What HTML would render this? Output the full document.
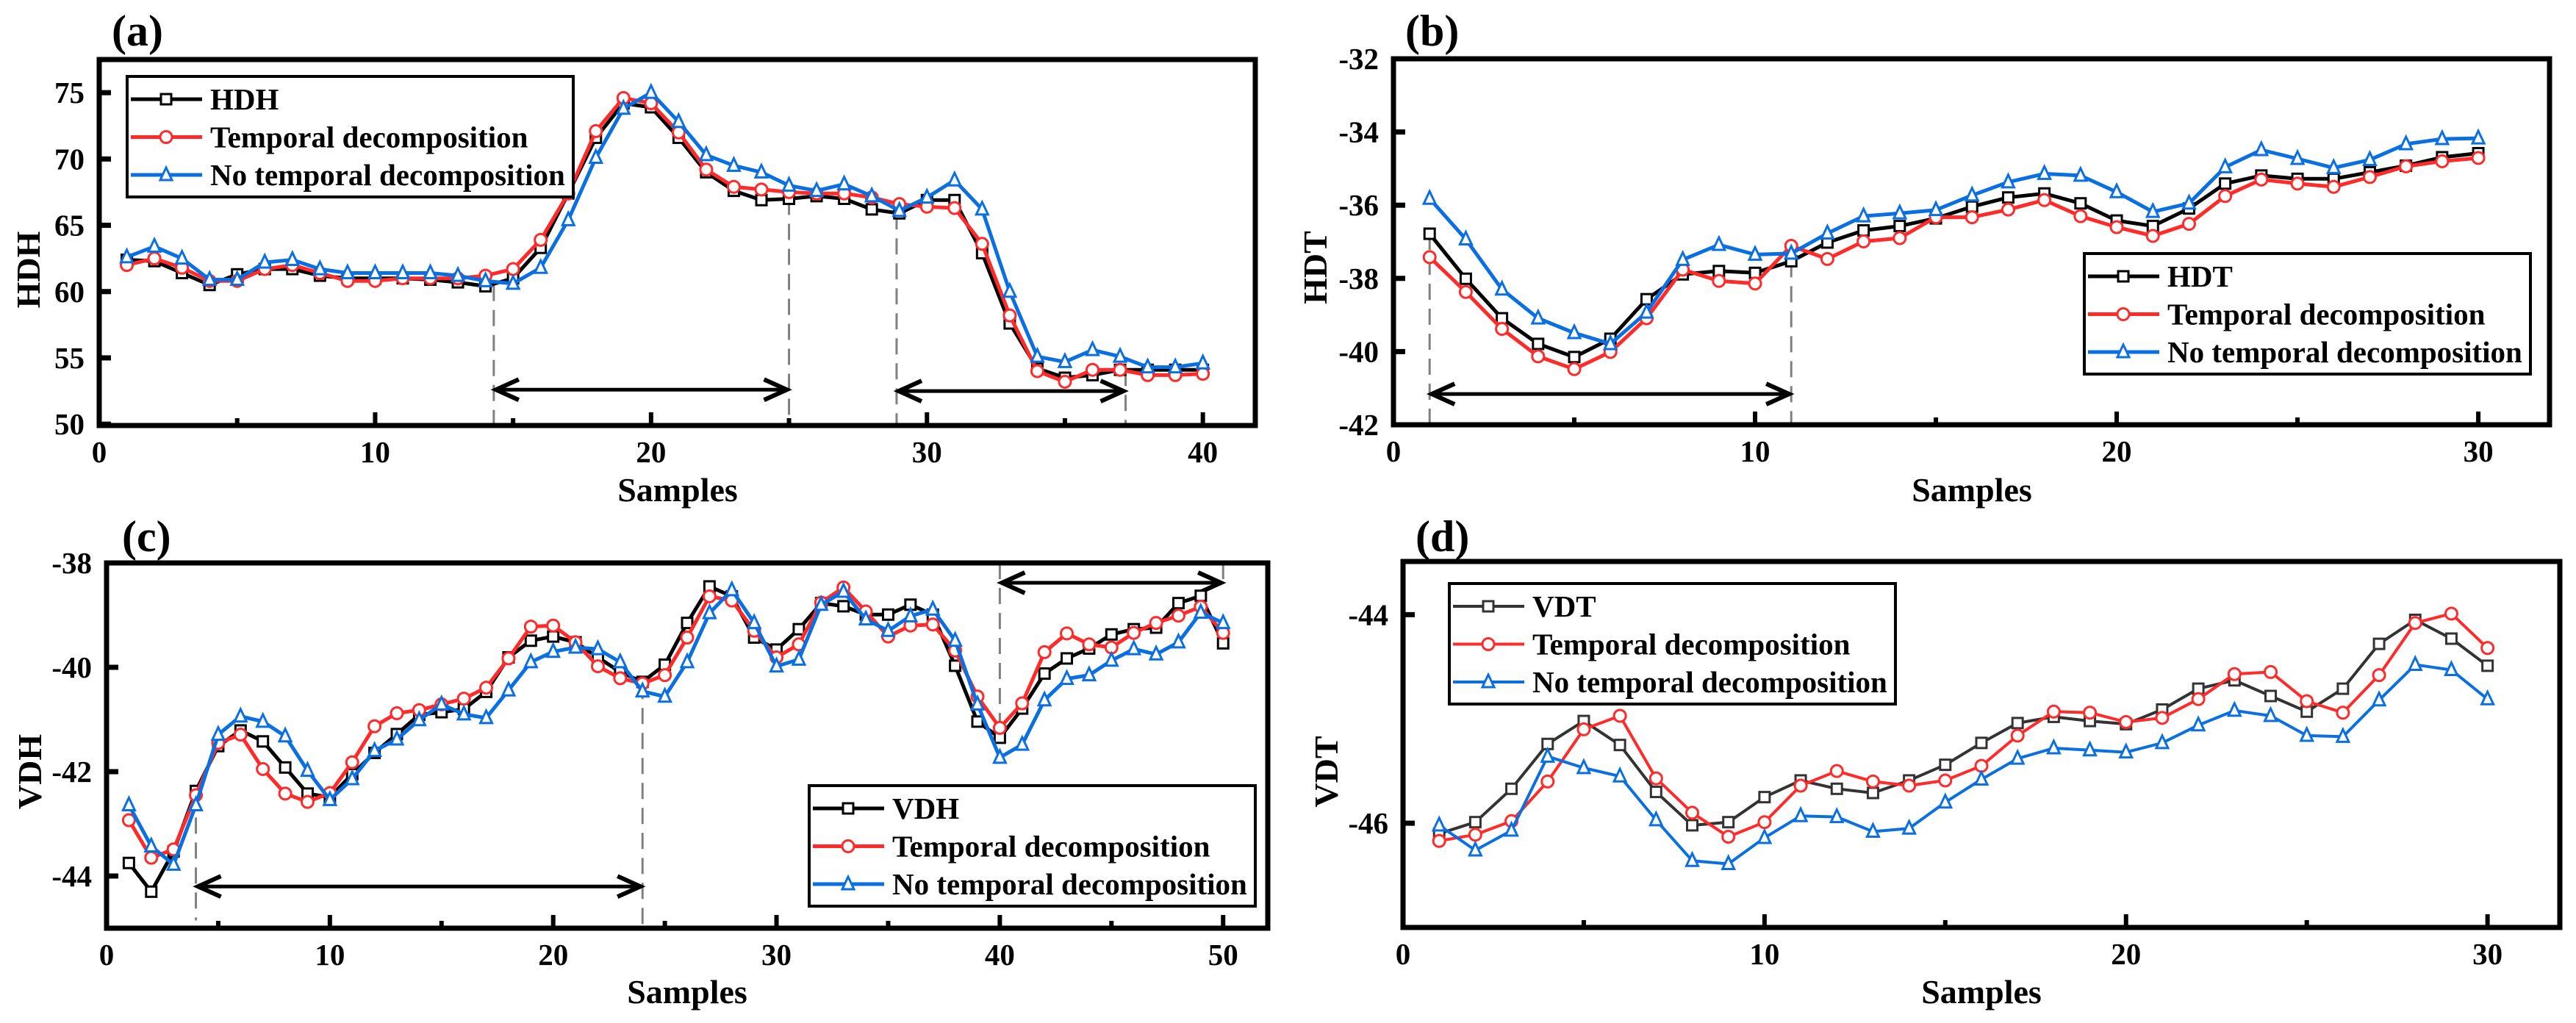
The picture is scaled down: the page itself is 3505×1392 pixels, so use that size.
<!DOCTYPE html>
<html><head><meta charset="utf-8"><style>
html,body{margin:0;padding:0;background:#fff;}
svg{display:block;font-family:"Liberation Serif",serif;}
</style></head><body>
<svg id="fig" width="3505" height="1392" viewBox="0 0 3505 1392" xmlns="http://www.w3.org/2000/svg"></svg>
<script>
// ---------- Panel (a) data ----------
const aSamples = Array.from({length:40},(_, i)=>i+1);
const aHDH = [62.4,62.3,61.4,60.5,61.3,61.7,61.7,61.2,61.0,61.0,61.0,60.9,60.7,60.4,61.0,63.3,67.4,71.6,74.2,73.9,71.6,69.0,67.6,66.9,67.0,67.2,67.0,66.2,65.9,66.9,66.9,62.9,57.6,54.2,53.5,53.7,54.1,54.1,54.1,54.1];
const aTemporal = [62.0,62.5,61.8,60.8,60.8,61.7,62.0,61.4,60.8,60.8,61.0,61.0,61.0,61.2,61.7,63.9,67.4,72.1,74.6,74.2,72.0,69.2,67.9,67.7,67.5,67.4,67.4,67.1,66.6,66.4,66.3,63.6,58.2,54.0,53.2,54.1,54.1,53.7,53.7,53.8];
const aNoTemporal = [62.6,63.4,62.5,60.9,60.9,62.2,62.4,61.7,61.4,61.4,61.4,61.4,61.2,60.8,60.6,61.8,65.4,70.1,73.8,75.0,72.8,70.3,69.5,69.0,68.0,67.6,68.1,67.2,66.1,67.1,68.4,66.2,60.0,55.1,54.7,55.6,55.1,54.3,54.3,54.6];
const aXTicks = [0,10,20,30,40];
const aYTicks = [50,55,60,65,70,75];

// ---------- Panel (b) data ----------
const bSamples = Array.from({length:30},(_, i)=>i+1);
const bHDT = [-36.78,-38.01,-39.09,-39.79,-40.15,-39.65,-38.57,-37.89,-37.80,-37.85,-37.53,-37.02,-36.69,-36.57,-36.36,-36.04,-35.79,-35.68,-35.95,-36.42,-36.57,-36.09,-35.41,-35.19,-35.28,-35.28,-35.10,-34.92,-34.69,-34.58];
const bTemporal = [-37.42,-38.37,-39.38,-40.13,-40.48,-40.01,-39.09,-37.76,-38.07,-38.14,-37.11,-37.47,-36.99,-36.90,-36.33,-36.33,-36.12,-35.86,-36.30,-36.60,-36.84,-36.51,-35.75,-35.30,-35.41,-35.50,-35.23,-34.94,-34.80,-34.71];
const bNoTemporal = [-35.82,-36.93,-38.30,-39.09,-39.49,-39.79,-38.93,-37.49,-37.08,-37.35,-37.32,-36.77,-36.30,-36.22,-36.13,-35.73,-35.37,-35.14,-35.19,-35.64,-36.18,-35.95,-34.96,-34.49,-34.73,-34.98,-34.76,-34.33,-34.19,-34.17];
const bXTicks = [0,10,20,30];
const bYTicks = [-42,-40,-38,-36,-34,-32];

// ---------- Panel (c) data ----------
const cSamples = Array.from({length:50},(_, i)=>i+1);
const cVDH = [-43.75,-44.30,-43.53,-42.37,-41.51,-41.21,-41.42,-41.92,-42.42,-42.49,-42.05,-41.64,-41.28,-40.91,-40.86,-40.80,-40.47,-39.81,-39.49,-39.41,-39.52,-39.81,-40.09,-40.28,-39.95,-39.15,-38.45,-38.64,-39.43,-39.66,-39.27,-38.77,-38.83,-38.99,-38.99,-38.80,-38.99,-39.97,-41.04,-41.35,-40.79,-40.12,-39.83,-39.64,-39.37,-39.27,-39.24,-38.77,-38.63,-39.54];
const cTemporal = [-42.93,-43.65,-43.49,-42.45,-41.45,-41.29,-41.95,-42.42,-42.58,-42.41,-41.82,-41.13,-40.88,-40.82,-40.71,-40.60,-40.39,-39.83,-39.22,-39.20,-39.52,-39.98,-40.21,-40.31,-40.15,-39.43,-38.64,-38.72,-39.30,-39.81,-39.56,-38.76,-38.47,-38.93,-39.41,-39.20,-39.18,-39.68,-40.56,-41.16,-40.69,-39.71,-39.35,-39.56,-39.62,-39.34,-39.15,-39.01,-38.84,-39.34];
const cNoTemporal = [-42.64,-43.43,-43.78,-42.64,-41.29,-40.94,-41.04,-41.32,-41.98,-42.54,-42.14,-41.60,-41.38,-41.01,-40.71,-40.90,-40.97,-40.44,-39.90,-39.70,-39.62,-39.65,-39.90,-40.46,-40.56,-39.90,-38.96,-38.52,-39.15,-39.98,-39.85,-38.80,-38.55,-39.08,-39.30,-39.02,-38.89,-39.49,-40.71,-41.73,-41.48,-40.63,-40.22,-40.15,-39.87,-39.65,-39.75,-39.52,-38.95,-39.15];
const cXTicks = [0,10,20,30,40,50];
const cYTicks = [-44,-42,-40,-38];

// ---------- Panel (d) data ----------
const dSamples = Array.from({length:30},(_, i)=>i+1);
const dVDT = [-46.10,-45.99,-45.67,-45.24,-45.02,-45.25,-45.70,-46.02,-45.99,-45.75,-45.59,-45.67,-45.71,-45.59,-45.44,-45.23,-45.04,-44.98,-45.02,-45.05,-44.91,-44.71,-44.63,-44.78,-44.93,-44.71,-44.28,-44.05,-44.23,-44.49];
const dTemporal = [-46.17,-46.11,-45.98,-45.60,-45.10,-44.97,-45.57,-45.90,-46.13,-45.99,-45.64,-45.50,-45.60,-45.64,-45.59,-45.45,-45.16,-44.93,-44.94,-45.03,-44.99,-44.81,-44.57,-44.55,-44.83,-44.94,-44.58,-44.08,-43.99,-44.32];
const dNoTemporal = [-46.02,-46.26,-46.07,-45.36,-45.47,-45.55,-45.97,-46.36,-46.39,-46.14,-45.93,-45.94,-46.08,-46.05,-45.80,-45.58,-45.38,-45.28,-45.30,-45.32,-45.23,-45.06,-44.92,-44.97,-45.16,-45.17,-44.82,-44.48,-44.53,-44.81];
const dXTicks = [0,10,20,30];
const dYTicks = [-46,-44];

const NS = "http://www.w3.org/2000/svg";
const svg = document.getElementById('fig');
function mk(tag, attrs, parent){
  const e = document.createElementNS(NS, tag);
  for (const k in attrs) e.setAttribute(k, attrs[k]);
  (parent||svg).appendChild(e);
  return e;
}
const BLACK='#000', RED='#ff2a2a', BLUE='#0a6fe0';

function marker(g, kind, x, y, color, sw){
  let m;
  if (kind==='square') m = mk('rect',{x:x-7,y:y-7,width:14,height:14,fill:'#fff',stroke:color,'stroke-width':sw},g);
  else if (kind==='circle') m = mk('circle',{cx:x,cy:y,r:8,fill:'#fff',stroke:color,'stroke-width':sw},g);
  else m = mk('polygon',{points:`${x},${y-10} ${x-8},${y+7} ${x+8},${y+7}`,fill:'#fff',stroke:color,'stroke-width':sw},g);
  return m;
}

function panel(p){
  const g = mk('g',{});
  
  
  const sx = v => p.L + (v - p.xmin)/(p.xmax - p.xmin)*(p.R - p.L);
  const sy = v => p.B - (v - p.ymin)/(p.ymax - p.ymin)*(p.B - p.T);

  // panel label
  const lab = mk('text',{x:p.labX,y:p.labY,'font-size':60,'font-weight':'bold'},g);
  lab.textContent = p.label;
  
  

  // dashed guides
  p.dashes.forEach(d=>{
    const l = mk('line',{x1:sx(d[0]),x2:sx(d[0]),y1:sy(d[1]),y2:sy(d[2]),stroke:'#808080','stroke-width':3,'stroke-dasharray':'22 12'},g);
    
    
  });
  // arrows
  p.arrows.forEach(a=>{
    const x1=sx(a[0]), x2=sx(a[1]), y=sy(a[2]);
    const ag = mk('g',{},g);
    
    
    mk('line',{x1:x1+4,x2:x2-4,y1:y,y2:y,stroke:'#000','stroke-width':5},ag);
    mk('polyline',{points:`${x1+34},${y-14} ${x1+3},${y} ${x1+34},${y+14}`,fill:'none',stroke:'#000','stroke-width':6},ag);
    mk('polyline',{points:`${x2-34},${y-14} ${x2-3},${y} ${x2-34},${y+14}`,fill:'none',stroke:'#000','stroke-width':6},ag);
  });

  // series
  const sw = p.thin ? 4 : 5;
  p.series.forEach(s=>{
    const sg = mk('g',{},g);
    
    
    const pts = p.xs.map((x,i)=>`${sx(x).toFixed(1)},${sy(s.vals[i]).toFixed(1)}`).join(' ');
    const pl = mk('polyline',{points:pts,fill:'none',stroke:s.color,'stroke-width':sw,'stroke-linejoin':'round'},sg);
    
    
    p.xs.forEach((x,i)=>{
      const m = marker(sg, s.kind, sx(x), sy(s.vals[i]), s.color, 3);
      
      
    });
  });

  // axes box
  const box = mk('rect',{x:p.L,y:p.T,width:p.R-p.L,height:p.B-p.T,fill:'none',stroke:'#000','stroke-width':7},g);
  
  

  // x ticks
  for (let v=p.xmin; v<=p.xmax+1e-6; v+=5){
    const major = Math.abs(v/10 - Math.round(v/10))<1e-6;
    const t = mk('line',{x1:sx(v),x2:sx(v),y1:p.B,y2:p.B-(major?18:10),stroke:'#000','stroke-width':6},g);
    
    
  }
  p.xticks.forEach(v=>{
    const t = mk('text',{x:sx(v),y:p.B+50,'font-size':41,'font-weight':'bold','text-anchor':'middle'},g);
    t.textContent = v;
    
    
  });
  p.yticks.forEach(v=>{
    const t = mk('line',{x1:p.L,x2:p.L+16,y1:sy(v),y2:sy(v),stroke:'#000','stroke-width':7},g);
    
    
    const tl = mk('text',{x:p.L-20,y:sy(v)+14,'font-size':41,'font-weight':'bold','text-anchor':'end'},g);
    tl.textContent = v;
    
    
  });

  // axis titles
  const xt = mk('text',{x:p.xtX,y:p.xtY,'font-size':46,'font-weight':'bold','text-anchor':'middle'},g);
  xt.textContent = 'Samples';
  
  
  const yt = mk('text',{x:0,y:0,'font-size':46,'font-weight':'bold','text-anchor':'middle',transform:`translate(${p.ytX},${p.ytY}) rotate(-90)`},g);
  yt.textContent = p.ytitle;
  
  

  // legend
  const lg = mk('g',{},g);
  
  
  mk('rect',{x:p.legX,y:p.legY,width:607,height:164,fill:'#fff',stroke:'#000','stroke-width':4},lg);
  p.series.forEach((s,i)=>{
    const y = p.legY + 31 + i*51.5;
    const e = mk('g',{},lg);
    
    
    mk('line',{x1:p.legX+5,x2:p.legX+102,y1:y,y2:y,stroke:s.color,'stroke-width':sw},e);
    marker(e, s.kind, p.legX+53, y, s.color, 3);
    const tx = mk('text',{x:p.legX+113,y:y+14,'font-size':41,'font-weight':'bold'},e);
    tx.textContent = s.label;
  });
}

panel({name:'panel-a-hdh',label:'(a)',labX:152,labY:62,L:135,R:1708,T:81,B:579,xmin:0,xmax:41.9,ymin:49.9,ymax:77.5,
  xs:aSamples,xticks:aXTicks,yticks:aYTicks,xtX:922,xtY:682,ytX:54,ytY:367,ytitle:'HDH',legX:173,legY:104,
  dashes:[[14.3,60.5,49.9],[25,67.0,49.9],[28.9,65.9,49.9],[37.2,54.1,49.9]],
  arrows:[[14.3,25,52.6],[28.9,37.2,52.5]],
  series:[{name:'hdh-series',label:'HDH',vals:aHDH,color:BLACK,kind:'square'},
          {name:'temporal-series',label:'Temporal decomposition',vals:aTemporal,color:RED,kind:'circle'},
          {name:'no-temporal-series',label:'No temporal decomposition',vals:aNoTemporal,color:BLUE,kind:'triangle'}]});

panel({name:'panel-b-hdt',label:'(b)',labX:1912,labY:62,L:1896,R:3469,T:80,B:578,xmin:0,xmax:31.97,ymin:-42,ymax:-32,
  xs:bSamples,xticks:bXTicks,yticks:bYTicks,xtX:2683,xtY:682,ytX:1805,ytY:364,ytitle:'HDT',legX:2836,legY:345,
  dashes:[[1,-36.78,-42],[11,-37.53,-42]],
  arrows:[[1,11,-41.16]],
  series:[{name:'hdt-series',label:'HDT',vals:bHDT,color:BLACK,kind:'square'},
          {name:'temporal-series',label:'Temporal decomposition',vals:bTemporal,color:RED,kind:'circle'},
          {name:'no-temporal-series',label:'No temporal decomposition',vals:bNoTemporal,color:BLUE,kind:'triangle'}]});

panel({name:'panel-c-vdh',label:'(c)',labX:166,labY:750,L:145,R:1725,T:766,B:1263,xmin:0,xmax:52,ymin:-45,ymax:-38,
  xs:cSamples,xticks:cXTicks,yticks:cYTicks,xtX:935,xtY:1365,ytX:56,ytY:1050,ytitle:'VDH',legX:1101,legY:1069,
  dashes:[[4,-42.4,-44.85],[24,-40.3,-45],[40,-38,-41.4],[50,-38,-38.45]],
  arrows:[[4,24,-44.2],[40,50,-38.38]],
  series:[{name:'vdh-series',label:'VDH',vals:cVDH,color:BLACK,kind:'square'},
          {name:'temporal-series',label:'Temporal decomposition',vals:cTemporal,color:RED,kind:'circle'},
          {name:'no-temporal-series',label:'No temporal decomposition',vals:cNoTemporal,color:BLUE,kind:'triangle'}]});

panel({name:'panel-d-vdt',label:'(d)',labX:1926,labY:750,L:1909,R:3483,T:764,B:1262,xmin:0,xmax:32,ymin:-47,ymax:-43.49,thin:true,
  xs:dSamples,xticks:dXTicks,yticks:dYTicks,xtX:2696,xtY:1365,ytX:1820,ytY:1050,ytitle:'VDT',legX:1972,legY:794,
  dashes:[],arrows:[],
  series:[{name:'vdt-series',label:'VDT',vals:dVDT,color:'#333',kind:'square'},
          {name:'temporal-series',label:'Temporal decomposition',vals:dTemporal,color:RED,kind:'circle'},
          {name:'no-temporal-series',label:'No temporal decomposition',vals:dNoTemporal,color:BLUE,kind:'triangle'}]});
</script>
</body></html>
